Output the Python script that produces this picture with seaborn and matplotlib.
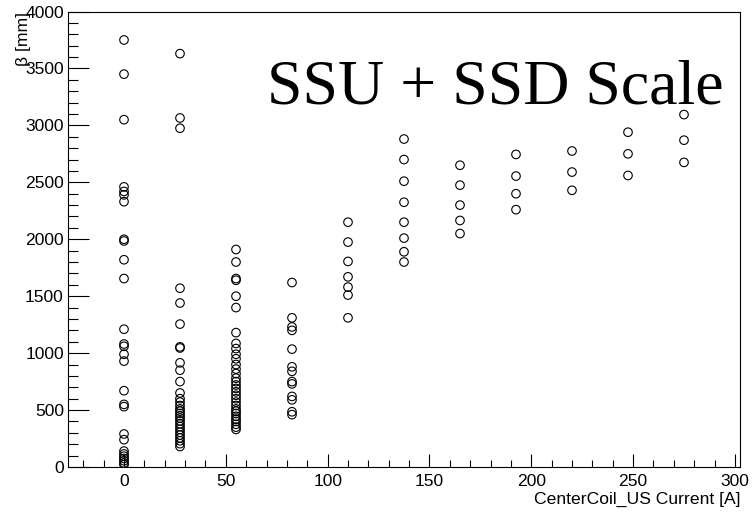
import matplotlib
matplotlib.use("Agg")
import matplotlib.pyplot as plt
import seaborn as sns
import pandas as pd
from matplotlib.ticker import MultipleLocator

currents = [0, 27.5, 55, 82.5, 110, 137.5, 165, 192.5, 220, 247.5, 275]
beta_c0 = [3750, 3450, 3050, 2460, 2420, 2390, 2330, 2000, 1985, 1820, 1655,
           1210, 1080, 1060, 990, 930, 670, 550, 530, 290, 240, 140, 115, 95,
           75, 55, 35, 20]
beta_c1 = [3630, 3065, 2975, 1570, 1440, 1255, 1055, 1045, 915, 850, 750, 650,
           600, 570, 540, 510, 490, 470, 450, 430, 405, 380, 355, 330, 305, 280,
           255, 230, 205, 180]
beta_c2 = [1910, 1800, 1655, 1640, 1500, 1400, 1180, 1085, 1040, 990, 950, 900,
           860, 820, 780, 750, 720, 690, 660, 630, 600, 570, 540, 510, 490, 470,
           445, 420, 400, 375, 350, 330]
beta_c3 = [1620, 1310, 1230, 1200, 1035, 880, 840, 750, 730, 620, 590, 485, 460]
beta_c4 = [2150, 1975, 1805, 1670, 1580, 1510, 1310]
beta_c5 = [2880, 2700, 2510, 2325, 2150, 2010, 1890, 1800]
beta_c6 = [2650, 2475, 2300, 2165, 2050]
beta_c7 = [2745, 2555, 2400, 2260]
beta_c8 = [2775, 2590, 2430]
beta_c9 = [2940, 2750, 2560]
beta_c10 = [3095, 2870, 2675]

title_text = "SSU + SSD Scale"
x_label = "CenterCoil_US Current [A]"
y_label = "β [mm]"

series = [beta_c0, beta_c1, beta_c2, beta_c3, beta_c4, beta_c5, beta_c6,
          beta_c7, beta_c8, beta_c9, beta_c10]
rows = []
for cur, vals in zip(currents, series):
    for v in vals:
        rows.append({"current": cur, "beta": v})
df = pd.DataFrame(rows)

sns.set_style("white")
plt.rcParams["font.family"] = ["Liberation Sans", "DejaVu Sans"]
plt.rcParams["text.color"] = "black"
plt.rcParams["axes.labelcolor"] = "black"
plt.rcParams["xtick.color"] = "black"
plt.rcParams["ytick.color"] = "black"

fig = plt.figure(figsize=(7.55, 5.12), dpi=100)
W, H = 755, 512
ax = fig.add_axes([68 / W, (H - 467) / H, (740 - 68) / W, (467 - 11.5) / H])

sns.scatterplot(data=df, x="current", y="beta", ax=ax, marker="o",
                facecolors="none", edgecolor="black", linewidth=0.8, s=38,
                legend=False)

ax.set_xlim(-27.5, 302.5)
ax.set_ylim(0, 4000)
ax.xaxis.set_major_locator(MultipleLocator(50))
ax.xaxis.set_minor_locator(MultipleLocator(10))
ax.yaxis.set_major_locator(MultipleLocator(500))
ax.yaxis.set_minor_locator(MultipleLocator(100))

ax.tick_params(axis="x", which="major", direction="in", length=9.5, width=0.8,
               labelsize=12.6, pad=5, top=False, bottom=True,
               colors="black", labelcolor="black")
ax.tick_params(axis="x", which="minor", direction="in", length=5, width=0.8,
               top=False, bottom=True, colors="black")
ax.tick_params(axis="y", which="major", direction="in", length=15, width=0.8,
               labelsize=12.6, pad=3, left=True, right=False,
               colors="black", labelcolor="black")
ax.tick_params(axis="y", which="minor", direction="in", length=7.5, width=0.8,
               left=True, right=False, colors="black")

for sp in ax.spines.values():
    sp.set_visible(True)
    sp.set_color("black")
    sp.set_linewidth(0.8)

ax.set_xlabel(x_label, fontsize=12.6, loc="right", labelpad=2, color="black")
ax.set_ylabel(y_label, fontsize=12.6, loc="top", labelpad=-4, color="black")

ax.text(0.975, 0.797, title_text, transform=ax.transAxes, ha="right",
        va="baseline", fontsize=46, color="black",
        family=["Liberation Serif", "DejaVu Serif"])

fig.savefig("out.png", dpi=100)
